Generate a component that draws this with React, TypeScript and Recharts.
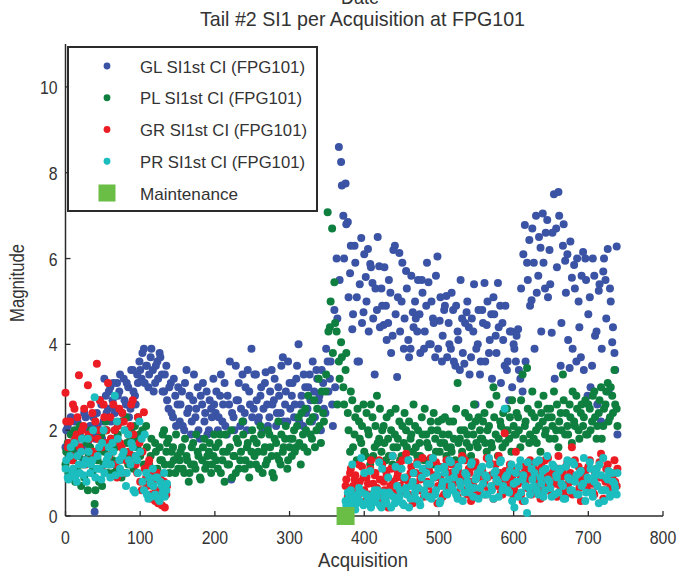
import { ScatterChart, Scatter, XAxis, YAxis, Legend } from "recharts";

// each run holds one value every ACQ_STEP acquisitions, from its start acquisition
const ACQ_STEP = 3;

const X_TICKS = [0, 100, 200, 300, 400, 500, 600, 700, 800];
const Y_TICKS = [0, 2, 4, 6, 8, 10];

// GL, acquisitions 0, 3, 6 ... 738
const GL_VALUES_A = [
  1.6, 2.1, 1.4, 1.9, 2.2, 1.5, 1.8, 2.0, 1.3, 2.3, 1.7, 2.1, 1.9, 0.1,
  2.4, 1.9, 2.6, 2.2, 2.8, 2.5, 3.0,
  2.7, 2.4, 3.1, 2.9, 2.2, 3.2, 2.6, 3.0, 2.5, 3.4, 2.8, 3.3,
  3.6, 3.2, 3.9, 3.5, 3.0, 3.7, 3.4, 3.1, 3.6, 3.8, 3.3,
  2.9, 3.5, 2.5, 3.1, 2.3, 2.8, 2.6,
  2.2, 2.9, 2.0, 3.4, 2.5, 1.9, 2.7, 2.3, 3.0, 1.8, 2.6, 2.2, 2.9, 2.0, 2.5, 3.2,
  2.4, 2.0, 2.8, 2.2, 3.1, 1.9, 2.6, 0.85, 2.3, 3.5, 2.7, 2.1, 3.3, 2.4, 2.0, 2.9, 3.9,
  2.5, 3.3, 2.2, 2.8, 2.0, 3.1, 2.6, 2.3, 3.4, 2.7, 2.1, 3.0, 2.4, 3.7, 2.6, 2.2, 3.1,
  2.8, 2.3, 3.2, 4.0, 2.6, 2.1, 3.0, 2.5, 3.3, 2.2, 2.9, 3.4, 2.7, 2.0, 3.1, 2.4, 3.6,
  3.2, 2.6, 4.8, 6.0, 8.6, 8.25, 7.0, 7.75,
  6.85, 5.66, 4.35, 6.3, 5.1, 3.6, 6.48, 4.75, 5.57, 6.22, 5.87, 5.43, 3.3, 4.8, 5.82,
  5.3, 4.45, 4.9, 4.5, 5.2, 4.2, 6.3, 3.24, 6.13, 5.0, 3.9, 5.71, 4.1, 3.9, 4.75,
  5.0, 4.3, 4.7, 5.5, 3.9, 4.9, 5.45, 4.0, 4.6, 3.7, 6.05, 4.55, 3.6, 4.8, 5.13,
  4.5, 3.9, 4.8, 3.5, 4.3, 3.4, 4.6, 3.55, 4.75, 4.4, 3.7, 4.3, 2.6, 4.0, 3.3,
  4.8, 5.43, 4.45, 3.8, 4.7, 5.1, 4.2, 5.43, 4.9, 4.5, 3.5, 3.4, 2.7, 4.3, 4.0,
  3.6, 4.35, 3.2, 2.9, 6.78, 5.9, 6.43, 5.03, 5.9, 7.0, 5.6, 6.25, 7.05, 5.3, 6.9,
  6.2, 4.27, 7.5, 6.7, 7.55, 3.5, 6.3, 5.95, 6.1, 3.45, 5.55, 5.85, 3.6, 5.0, 3.7,
  6.15, 6.0, 2.8, 5.1, 3.5, 5.6, 4.3, 5.25, 2.2, 5.7, 5.5, 6.22, 5.3, 4.05, 3.8, 6.28,
];
// GL, acquisitions 1, 4, 7 ... 739
const GL_VALUES_B = [
  2.0, 1.5, 2.3, 1.7, 1.4, 2.2, 1.9, 1.6, 2.4, 1.8, 2.0, 1.5, 2.3, 1.8,
  2.1, 2.7, 1.8, 3.2, 2.4, 2.9, 2.2,
  3.1, 2.5, 2.8, 3.3, 2.4, 2.7, 3.1, 2.3, 3.4, 2.9, 2.6, 3.1,
  3.4, 3.8, 3.1, 3.5, 3.3, 3.9, 2.9, 3.5, 3.2, 3.7, 2.9,
  3.3, 2.7, 3.0, 2.4, 3.2, 2.1, 3.0,
  2.6, 2.1, 3.1, 2.4, 2.8, 2.2, 3.3, 2.5, 2.0, 2.8, 3.1, 2.4, 1.9, 2.7, 2.3, 2.6,
  2.9, 2.3, 3.3, 2.6, 2.1, 2.8, 3.6, 2.4, 2.0, 2.7, 3.1, 2.5, 2.2, 3.0, 3.4, 2.6, 2.3,
  3.3, 2.7, 2.3, 3.0, 2.5, 3.35, 2.1, 2.9, 2.6, 3.2, 2.4, 2.8, 3.5, 2.2, 2.9, 3.6, 2.5,
  3.1, 2.6, 3.5, 2.2, 2.8, 3.3, 2.4, 3.0, 2.7, 3.6, 2.3, 3.2, 2.8, 3.4, 2.5, 3.9, 2.9,
  3.6, 2.1, 3.0, 4.6, 5.5, 7.7, 6.0, 6.8,
  5.1, 6.3, 4.7, 5.9, 3.6, 5.4, 4.5, 6.1, 5.0, 4.3, 5.8, 4.6, 5.3, 6.5, 4.4,
  4.9, 5.8, 4.1, 5.5, 3.8, 6.2, 4.7, 5.1, 4.3, 5.9, 4.6, 5.3, 3.7, 5.6, 4.4,
  4.6, 5.5, 3.8, 5.2, 4.3, 5.9, 4.0, 5.0, 4.5, 5.6, 3.9, 5.1, 4.2, 4.9, 3.7,
  4.0, 5.2, 3.6, 4.9, 4.1, 5.5, 3.8, 4.5, 5.0, 3.3, 4.6, 5.4, 3.9, 4.8, 3.6,
  4.5, 3.6, 5.0, 4.1, 3.2, 4.7, 3.8, 4.4, 3.1, 4.1, 4.9, 3.6, 4.3, 3.0, 3.9,
  4.2, 3.4, 5.3, 6.1, 3.6, 5.5, 4.9, 6.7, 3.9, 5.2, 6.5, 4.3, 5.9, 6.6, 5.1,
  5.4, 6.6, 3.2, 5.8, 7.0, 4.5, 6.8, 5.2, 4.1, 6.4, 3.9, 5.3, 6.0, 4.4, 5.6,
  3.4, 5.5, 4.7, 3.0, 6.0, 4.2, 2.6, 5.4, 3.9, 6.0, 4.6, 2.9, 5.0, 4.4, 3.4, 1.9,
];

// PL, acquisitions 0, 3, 6 ... 738
const PL_VALUES_A = [
  1.2, 1.7, 0.9, 1.5, 2.0, 1.1, 1.4, 0.7, 1.8, 1.3, 0.6, 1.6, 1.0, 0.28,
  1.5, 0.8, 1.9, 1.2, 2.2, 1.0, 1.6,
  1.3, 2.0, 1.1, 1.7, 0.9, 1.5, 2.3, 1.2, 1.8, 1.4, 2.1, 1.6,
  1.9, 1.5, 1.2, 2.1, 0.9, 1.4, 0.7, 1.7, 1.1, 1.6, 1.3,
  2.0, 1.5, 1.8, 1.2, 1.6, 1.0, 1.4,
  1.3, 1.6, 1.0, 1.4, 0.8, 1.2, 1.7, 1.1, 1.5, 0.9, 1.3, 1.8, 1.2, 1.5, 1.0, 1.4,
  1.6, 1.1, 1.9, 1.3, 0.8, 1.5, 1.2, 2.0, 1.4, 1.0, 1.7, 1.3, 2.2, 1.1, 1.6, 0.9, 1.5,
  1.8, 1.2, 1.5, 2.1, 1.0, 1.6, 1.3, 1.9, 1.4, 0.9, 1.7, 2.2, 1.2, 1.5, 1.8, 1.1, 1.6,
  1.4, 2.0, 1.6, 2.3, 1.2, 1.9, 2.5, 1.5, 2.2, 1.8, 2.7, 2.0, 3.2, 1.7, 2.4, 2.9, 7.08,
  4.4, 6.7, 5.45, 4.3, 3.6, 4.05, 3.0, 3.4,
  2.4, 1.5, 2.7, 1.9, 1.3, 2.2, 1.7, 2.6, 1.4, 2.0, 1.2, 2.3, 1.6, 2.8, 1.8,
  1.5, 2.1, 1.3, 1.8, 2.4, 1.2, 1.9, 1.6, 2.2, 1.4, 1.7, 2.0, 1.3, 1.8, 1.5,
  2.1, 1.4, 1.7, 2.3, 1.3, 1.9, 1.6, 2.2, 1.2, 1.8, 2.0, 1.5, 2.25, 1.7, 1.4,
  1.9, 1.6, 2.2, 1.3, 3.1, 1.8, 1.5, 2.0, 1.7, 2.3, 1.4, 1.9, 2.2, 1.6, 2.0,
  1.8, 2.4, 1.5, 2.1, 1.7, 3.0, 1.9, 1.4, 2.2, 1.6, 2.0, 2.5, 1.8, 1.5, 2.1,
  1.9, 2.3, 1.6, 3.3, 2.1, 3.45, 1.7, 2.4, 1.8, 2.0, 2.6, 1.5, 2.2, 1.9, 2.5,
  1.8, 2.3, 2.9, 2.0, 1.6, 2.4, 3.3, 1.9, 2.1, 2.6, 1.7, 2.2, 2.8, 2.0, 2.4,
  2.1, 2.7, 1.9, 2.5, 2.2, 2.9, 1.8, 2.4, 3.0, 2.1, 2.6, 3.1, 2.3, 2.8, 3.4, 2.5,
];
// PL, acquisitions 1, 4, 7 ... 739
const PL_VALUES_B = [
  1.5, 1.0, 1.9, 1.3, 0.8, 1.6, 2.1, 1.2, 0.9, 1.7, 1.4, 2.0, 1.1, 0.6,
  1.3, 1.8, 0.7, 1.5, 2.0, 1.2, 1.8,
  1.0, 1.6, 1.9, 1.3, 2.2, 1.0, 1.7, 1.4, 2.0, 1.1, 1.8, 2.3,
  1.4, 2.0, 0.8, 1.6, 1.2, 1.8, 1.0, 1.5, 0.9, 1.3, 1.9,
  1.2, 1.7, 1.0, 1.5, 1.3, 1.9, 1.1,
  1.5, 1.1, 1.8, 1.3, 1.0, 1.6, 1.2, 1.9, 1.4, 0.85, 1.6, 1.1, 1.4, 1.7, 1.2, 1.9,
  1.3, 1.7, 1.0, 1.5, 1.9, 1.2, 1.6, 0.9, 1.4, 1.8, 1.1, 1.5, 1.9, 1.3, 1.7, 1.2, 2.0,
  1.4, 1.7, 1.1, 1.9, 1.5, 1.2, 2.0, 1.6, 1.0, 1.8, 1.4, 1.3, 1.9, 1.6, 2.1, 1.3, 1.8,
  1.8, 1.5, 2.1, 1.7, 2.4, 1.6, 2.0, 2.8, 1.9, 2.3, 1.6, 2.5, 2.1, 2.9, 2.2, 3.3, 4.3,
  5.0, 3.8, 4.5, 2.6, 3.2, 3.7, 2.6, 3.8,
  2.0, 2.9, 1.6, 2.3, 2.5, 1.8, 2.1, 1.5, 2.4, 1.9, 2.6, 1.4, 2.1, 1.7, 2.5,
  2.0, 1.7, 2.3, 1.4, 2.0, 1.6, 2.5, 1.8, 1.3, 2.1, 2.4, 1.6, 2.2, 1.9, 2.6,
  1.6, 2.0, 1.4, 1.9, 2.5, 1.7, 1.3, 2.0, 2.4, 1.5, 2.2, 1.7, 1.9, 2.3, 1.6,
  2.2, 1.5, 1.8, 2.5, 1.7, 2.0, 1.4, 2.4, 1.9, 1.6, 2.1, 2.6, 1.7, 2.3, 1.8,
  2.2, 1.7, 2.0, 2.6, 1.6, 2.3, 2.8, 1.8, 2.1, 2.4, 1.7, 2.0, 2.3, 2.7, 1.9,
  2.4, 2.0, 2.7, 1.8, 2.2, 2.5, 1.9, 2.9, 2.3, 1.7, 2.1, 2.4, 2.8, 2.0, 2.3,
  2.5, 2.1, 1.8, 2.6, 2.2, 2.0, 2.7, 2.4, 1.9, 2.3, 2.9, 2.1, 2.5, 1.8, 2.6,
  2.3, 1.9, 2.6, 2.0, 2.8, 2.3, 2.1, 2.7, 1.8, 2.5, 2.9, 2.2, 3.0, 2.4, 2.6, 2.1,
];

// GR / PR come in two runs: acquisitions 0..136 and 375..739
const GR_EARLY_A = [
  2.87, 1.6, 2.2, 1.3, 2.5, 1.9, 3.28, 1.5, 2.1, 1.2,
  3.05, 1.8, 2.4, 1.4, 3.55, 2.0, 1.1, 2.6, 1.7, 3.1,
  2.3, 1.5, 2.0, 0.9, 2.5, 1.6, 2.2, 1.3, 1.9, 2.1,
  2.7, 1.4, 1.0, 1.7, 0.6, 2.42, 0.9, 1.2, 0.5, 0.8,
  0.35, 1.0, 0.6, 0.25, 0.8, 0.5,
];
const GR_EARLY_B = [
  2.2, 1.7, 1.4, 2.6, 1.8, 2.3, 1.6, 2.0, 2.5, 1.3,
  1.9, 2.6, 1.5, 2.2, 1.8, 2.7, 1.6, 2.3, 2.0, 1.4,
  1.8, 2.6, 1.2, 2.1, 1.7, 2.4, 1.0, 2.0, 1.5, 2.6,
  1.9, 1.2, 2.3, 0.8, 1.5, 1.1, 0.7, 1.3, 0.4, 1.0,
  0.6, 0.3, 0.9, 0.5, 0.2, 0.7,
];
const GR_LATE_A = [
  0.7, 0.45, 1.0, 0.6, 0.85, 0.4, 1.2, 0.55, 0.9, 0.35, 0.75, 1.1,
  0.5, 0.95, 0.65, 1.3, 0.4, 0.8, 1.05, 0.2, 0.7, 1.4, 0.55, 0.9,
  1.2, 0.6, 0.85, 1.45, 0.5, 1.0, 0.3, 0.75, 1.25, 0.6, 0.95, 0.45,
  1.1, 0.7, 1.35, 0.55, 0.9, 0.3, 1.15, 0.8, 0.5, 1.3, 0.65, 1.0,
  0.75, 1.2, 0.45, 0.95, 1.4, 0.6, 0.85, 1.1, 0.35, 0.7, 1.25, 0.9,
  0.55, 1.05, 0.8, 1.35, 0.6, 0.95, 0.4, 1.2, 0.7, 1.0, 0.5, 1.93,
  0.85, 0.6, 1.15, 0.45, 1.5, 0.75, 0.95, 0.35, 1.1, 0.65, 0.9, 0.5,
  1.2, 0.7, 1.05, 0.4, 0.85, 1.3, 0.6, 0.95, 0.5, 1.1, 0.75, 1.4,
  0.65, 1.0, 0.45, 1.25, 0.8, 1.6, 0.55, 0.9, 1.15, 0.35, 0.85, 1.05,
  0.6, 1.3, 0.75, 0.5, 1.1, 0.9, 1.45, 0.4, 0.8, 1.2, 0.65, 1.0,
  1.3, 0.7,
];
const GR_LATE_B = [
  0.85, 0.5, 1.1, 0.7, 0.95, 0.45, 0.8, 1.15, 0.6, 0.9, 0.5, 1.3,
  0.75, 1.0, 0.45, 0.85, 1.2, 0.6, 0.95, 0.5, 1.1, 0.8, 0.4, 1.0,
  0.7, 1.3, 0.55, 0.9, 0.75, 1.15, 0.4, 1.0, 0.65, 0.85, 1.35, 0.55,
  0.8, 1.05, 0.5, 0.95, 1.25, 0.7, 0.9, 0.45, 1.1, 0.75, 0.6, 1.2,
  0.9, 0.55, 1.05, 0.7, 0.85, 1.3, 0.5, 1.0, 0.8, 1.15, 0.6, 0.95,
  1.1, 0.7, 0.5, 0.9, 1.25, 0.65, 1.0, 0.8, 1.4, 0.55, 0.85, 1.05,
  0.7, 1.2, 0.9, 0.6, 1.0, 0.8, 0.5, 1.15, 0.75, 0.95, 1.3, 0.6,
  0.85, 1.05, 0.55, 1.2, 0.7, 0.9, 1.35, 0.65, 1.0, 0.8, 0.45, 1.1,
  0.9, 0.6, 1.15, 0.75, 1.0, 0.5, 1.3, 0.85, 0.65, 1.05, 0.95, 0.7,
  1.15, 0.8, 0.55, 1.0, 0.7, 1.25, 0.9, 0.6, 1.1, 0.85, 0.5, 0.95,
  0.8, 1.1,
];

const PR_EARLY_A = [
  1.1, 0.9, 1.4, 1.0, 1.7, 0.8, 1.2, 1.5, 0.95, 1.3,
  1.8, 1.0, 1.3, 2.77, 1.1, 1.6, 0.85, 2.0, 1.2, 1.4,
  0.9, 1.7, 2.8, 2.2, 1.3, 1.0, 1.5, 0.7, 1.9, 1.2,
  1.6, 0.55, 1.3, 2.2, 1.8, 0.6, 1.0, 0.4, 0.75, 1.1,
  0.5, 0.9, 0.35, 0.7, 1.0, 0.6,
];
const PR_EARLY_B = [
  1.3, 0.85, 1.6, 1.1, 0.9, 1.4, 1.0, 1.8, 1.2, 0.8,
  1.5, 1.2, 2.0, 0.9, 1.4, 1.1, 1.7, 1.0, 1.3, 1.6,
  1.2, 1.5, 0.95, 1.8, 1.1, 1.4, 2.0, 1.0, 1.3, 1.7,
  0.6, 1.4, 1.0, 1.5, 0.8, 1.9, 0.5, 0.9, 0.45, 0.7,
  0.9, 0.4, 0.8, 0.55, 0.45, 0.75,
];
const PR_LATE_A = [
  0.35, 0.55, 0.2, 1.2, 0.45, 0.3, 0.65, 1.35, 0.25, 0.5, 0.4, 1.05,
  0.3, 0.6, 0.45, 1.25, 0.2, 0.55, 0.35, 0.9, 0.5, 1.4, 0.3, 0.7,
  0.45, 1.1, 0.25, 0.65, 1.3, 0.4, 0.8, 0.55, 1.2, 0.35, 0.9, 0.6,
  1.0, 0.45, 0.75, 1.35, 0.5, 0.95, 0.3, 0.7, 1.15, 0.55, 0.85, 1.25,
  0.6, 1.05, 0.4, 0.8, 1.3, 0.55, 0.95, 0.7, 1.2, 0.45, 0.85, 1.0,
  0.65, 1.15, 0.5, 0.9, 1.35, 0.7, 0.4, 1.05, 0.8, 1.25, 0.6, 2.5,
  0.95, 0.55, 1.2, 0.75, 1.0, 0.45, 1.3, 0.85, 0.35, 0.07, 0.65, 1.1,
  0.7, 1.25, 0.5, 0.9, 1.05, 0.6, 1.4, 0.8, 0.45, 1.15, 0.95, 0.55,
  1.1, 0.7, 0.4, 1.3, 0.85, 0.6, 1.2, 0.95, 0.5, 1.05, 0.75, 0.35,
  0.9, 1.25, 0.55, 0.8, 1.1, 0.3, 0.95, 1.35, 0.6, 0.85, 0.45, 1.0,
  0.75, 0.5,
];
const PR_LATE_B = [
  0.25, 0.4, 0.6, 0.3, 0.15, 0.5, 0.35, 0.55, 1.0, 0.3, 0.45, 0.2,
  0.5, 0.35, 0.6, 0.25, 1.1, 0.4, 0.3, 0.55, 0.2, 0.45, 1.15, 0.35,
  0.6, 0.3, 0.9, 0.5, 0.2, 0.7, 1.0, 0.4, 0.65, 0.25, 1.1, 0.5,
  0.75, 1.2, 0.4, 0.9, 0.6, 1.1, 0.35, 0.8, 1.0, 0.5, 1.3, 0.7,
  0.9, 0.5, 1.15, 0.7, 0.35, 1.0, 0.8, 0.55, 1.25, 0.65, 0.9, 0.4,
  1.1, 0.75, 0.95, 0.5, 1.2, 0.6, 1.0, 0.85, 0.45, 1.3, 0.7, 0.9,
  0.6, 1.05, 0.35, 0.2, 0.8, 1.15, 0.55, 0.95, 0.7, 1.25, 0.5, 0.85,
  1.0, 0.6, 1.3, 0.75, 0.45, 1.1, 0.85, 0.65, 1.2, 0.5, 0.9, 1.05,
  0.75, 0.4, 1.15, 0.9, 0.6, 1.25, 0.8, 0.5, 1.0, 0.7, 1.35, 0.55,
  0.85, 1.1, 0.45, 0.95, 0.7, 1.2, 0.6, 0.35, 0.9, 1.05, 0.5, 0.8,
  0.65, 1.0,
];

const MAINTENANCE_ACQ = [375];

const GL_COLOR = "#3a53a4";
const PL_COLOR = "#0e7f3f";
const GR_COLOR = "#ec1c24";
const PR_COLOR = "#1cbdbf";
const MAINT_COLOR = "#6abd45";
const INK = "#2b2b2b";
const TEXT = "#333";
const FONT = '"Liberation Sans", Arial, sans-serif';

type Pt = { acq: number; value: number };

const toPoints = (values: number[], start: number): Pt[] =>
  values.map((v, i) => ({ acq: start + i * ACQ_STEP, value: v }));

const glData = [...toPoints(GL_VALUES_A, 0), ...toPoints(GL_VALUES_B, 1)];
const plData = [...toPoints(PL_VALUES_A, 0), ...toPoints(PL_VALUES_B, 1)];
const grData = [
  ...toPoints(GR_EARLY_A, 0), ...toPoints(GR_EARLY_B, 1),
  ...toPoints(GR_LATE_A, 375), ...toPoints(GR_LATE_B, 376),
];
const prData = [
  ...toPoints(PR_EARLY_A, 0), ...toPoints(PR_EARLY_B, 1),
  ...toPoints(PR_LATE_A, 375), ...toPoints(PR_LATE_B, 376),
];
const maintData = MAINTENANCE_ACQ.map((a) => ({ acq: a, value: 0 }));

const LEGEND_ITEMS = [
  { name: "GL SI1st CI (FPG101)", color: GL_COLOR, square: false, len: 165 },
  { name: "PL SI1st CI (FPG101)", color: PL_COLOR, square: false, len: 162 },
  { name: "GR SI1st CI (FPG101)", color: GR_COLOR, square: false, len: 167 },
  { name: "PR SI1st CI (FPG101)", color: PR_COLOR, square: false, len: 165 },
  { name: "Maintenance", color: MAINT_COLOR, square: true, len: 98 },
];

const dot = (color: string) => (props: any) =>
  <circle cx={props.cx} cy={props.cy} r={4} fill={color} />;

const square = (props: any) =>
  <rect x={props.cx - 9} y={props.cy - 9} width={18} height={18} fill={MAINT_COLOR} />;

function XTick(props: any) {
  const { x, y, payload } = props;
  const label = String(payload.value);
  return (
    <g>
      <line x1={x} y1={y} x2={x} y2={y - 5} stroke={INK} strokeWidth={1.3} />
      <text x={x} y={y + 28} textAnchor="middle" fontSize={19} fill={TEXT} fontFamily={FONT}
        textLength={label.length * 8.8} lengthAdjust="spacingAndGlyphs">{label}</text>
    </g>
  );
}

function YTick(props: any) {
  const { x, y, payload } = props;
  const label = String(payload.value);
  return (
    <g>
      <line x1={x} y1={y} x2={x + 5} y2={y} stroke={INK} strokeWidth={1.3} />
      <text x={x - 8} y={y + 7} textAnchor="end" fontSize={19} fill={TEXT} fontFamily={FONT}
        textLength={label.length * 8.8} lengthAdjust="spacingAndGlyphs">{label}</text>
    </g>
  );
}

function LegendBox() {
  return (
    <svg width={251} height={166} style={{ display: "block" }}>
      <rect x={1} y={1} width={249} height={164} fill="#fff" stroke={INK} strokeWidth={2} />
      {LEGEND_ITEMS.map((item, i) => {
        const cy = 20 + i * 31.75;
        return (
          <g key={item.name}>
            {item.square ? (
              <rect x={31.5} y={cy - 8.5} width={17} height={17} fill={item.color} />
            ) : (
              <circle cx={40} cy={cy} r={3.4} fill={item.color} />
            )}
            <text x={73} y={cy + 6.5} fontSize={17} fill={TEXT} fontFamily={FONT}
              textLength={item.len} lengthAdjust="spacingAndGlyphs">{item.name}</text>
          </g>
        );
      })}
    </svg>
  );
}

export default function App() {
  return (
    <div style={{ position: "absolute", left: 0, top: 0, width: 680, height: 573, background: "#fff" }}>
      <ScatterChart width={680} height={573} margin={{ top: 44, right: 17, bottom: 0, left: 0 }}>
        <XAxis
          type="number"
          dataKey="acq"
          domain={[0, 800]}
          ticks={X_TICKS}
          interval={0}
          height={57}
          tickSize={0}
          tickMargin={0}
          tick={<XTick />}
          axisLine={{ stroke: INK, strokeWidth: 1.5 }}
        />
        <YAxis
          type="number"
          dataKey="value"
          domain={[0, 11]}
          ticks={Y_TICKS}
          interval={0}
          width={65.5}
          tickSize={0}
          tickMargin={0}
          tick={<YTick />}
          axisLine={{ stroke: INK, strokeWidth: 1.5 }}
        />
        <Legend
          layout="horizontal"
          verticalAlign="middle"
          align="center"
          wrapperStyle={{ left: 67, top: 46, width: 251, height: 166 }}
          content={() => <LegendBox />}
        />
        <Scatter name="GL SI1st CI (FPG101)" data={glData} shape={dot(GL_COLOR)} isAnimationActive={false} />
        <Scatter name="PL SI1st CI (FPG101)" data={plData} shape={dot(PL_COLOR)} isAnimationActive={false} />
        <Scatter name="GR SI1st CI (FPG101)" data={grData} shape={dot(GR_COLOR)} isAnimationActive={false} />
        <Scatter name="PR SI1st CI (FPG101)" data={prData} shape={dot(PR_COLOR)} isAnimationActive={false} />
        <Scatter name="Maintenance" data={maintData} shape={square} isAnimationActive={false} />
      </ScatterChart>
      <svg width={680} height={573} style={{ position: "absolute", left: 0, top: 0, pointerEvents: "none" }}>
        <text x={360} y={4} textAnchor="middle" fontSize={21} fill={TEXT} fontFamily={FONT}
          textLength={38} lengthAdjust="spacingAndGlyphs">Date</text>
        <text x={362.5} y={26} textAnchor="middle" fontSize={21} fill={TEXT} fontFamily={FONT}
          textLength={325} lengthAdjust="spacingAndGlyphs">Tail #2 SI1 per Acquisition at FPG101</text>
        <text x={363} y={567} textAnchor="middle" fontSize={21} fill={TEXT} fontFamily={FONT}
          textLength={90} lengthAdjust="spacingAndGlyphs">Acquisition</text>
        <text x={24} y={283} textAnchor="middle" fontSize={21} fill={TEXT} fontFamily={FONT}
          textLength={78} lengthAdjust="spacingAndGlyphs" transform="rotate(-90 24 283)">Magnitude</text>
      </svg>
    </div>
  );
}
